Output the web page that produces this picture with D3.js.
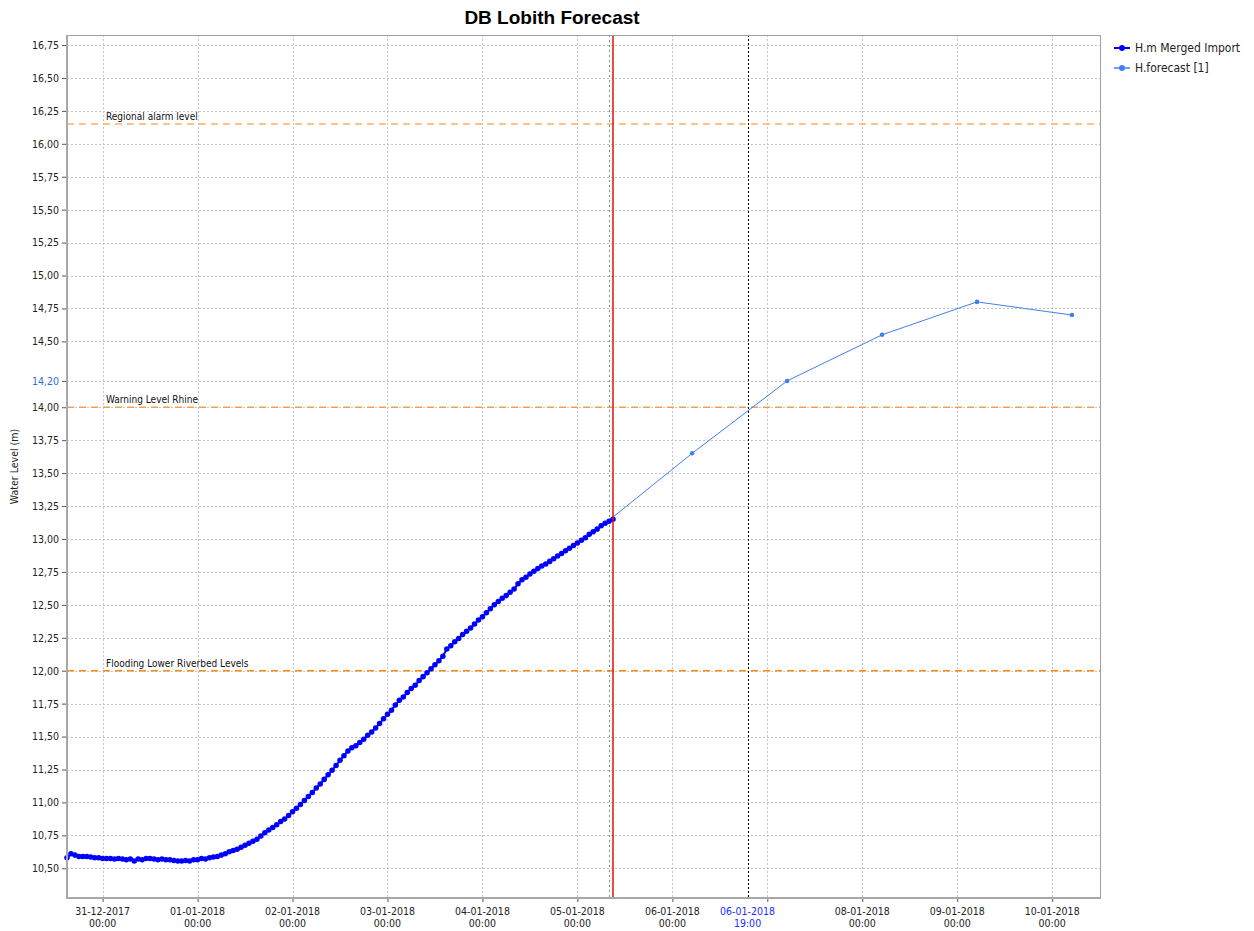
<!DOCTYPE html>
<html>
<head>
<meta charset="utf-8">
<script src="https://cdn.jsdelivr.net/npm/d3@7"></script>
<style>
body { margin: 0; background: #fff; }
text { font-family: "DejaVu Sans Condensed", "DejaVu Sans", sans-serif; font-stretch: condensed; }
</style>
</head>
<body>
<div id="chart"></div>
<script>
// observed water level, hourly from 30-12-2017 15:00
const obsStart = "2017-12-30T15:00";
const obsValues = [
    10.58, 10.61, 10.60, 10.59, 10.59, 10.59, 10.585, 10.58, 10.58, 10.575, 10.575,
    10.575, 10.57, 10.575, 10.57, 10.565, 10.57, 10.555, 10.57, 10.565, 10.575, 10.575,
    10.57, 10.565, 10.57, 10.565, 10.565, 10.56, 10.555, 10.555, 10.56, 10.555, 10.565,
    10.565, 10.575, 10.57, 10.58, 10.585, 10.59, 10.60, 10.61, 10.625, 10.635, 10.645, 10.66,
    10.675, 10.69, 10.705, 10.72, 10.745, 10.77, 10.79, 10.81, 10.83, 10.855, 10.875, 10.90,
    10.93, 10.955, 10.985, 11.015, 11.045, 11.075, 11.11, 11.14, 11.175, 11.21, 11.245, 11.28,
    11.32, 11.355, 11.39, 11.415, 11.43, 11.455, 11.48, 11.51, 11.535, 11.565, 11.60, 11.635,
    11.67, 11.70, 11.74, 11.775, 11.80, 11.835, 11.865, 11.89, 11.925, 11.955, 11.985, 12.015,
    12.045, 12.075, 12.11, 12.165, 12.19, 12.22, 12.245, 12.275, 12.30, 12.325, 12.355, 12.385,
    12.41, 12.44, 12.47, 12.50, 12.525, 12.55, 12.57, 12.595, 12.62, 12.66, 12.69, 12.71,
    12.735, 12.755, 12.775, 12.795, 12.81, 12.83, 12.85, 12.87, 12.89, 12.91, 12.93, 12.95,
    12.97, 12.99, 13.01, 13.035, 13.055, 13.075, 13.10, 13.12, 13.135, 13.15
];

const fcTimes = ["2018-01-05T05:00", "2018-01-06T05:00", "2018-01-07T05:00",
                 "2018-01-08T05:00", "2018-01-09T05:00", "2018-01-10T05:00"];
const fcValues = [13.07, 13.65, 14.20, 14.55, 14.80, 14.70];

const thresholdNames = ["Regional alarm level", "Warning Level Rhine", "Flooding Lower Riverbed Levels"];
const thresholdValues = [16.15, 14.00, 12.00];
const thresholdColors = ["#ffb070", "#f5a050", "#ff8a10"];

const yTicks = [10.50, 10.75, 11.00, 11.25, 11.50, 11.75, 12.00, 12.25, 12.50, 12.75, 13.00,
                13.25, 13.50, 13.75, 14.00, 14.20, 14.50, 14.75, 15.00, 15.25, 15.50, 15.75,
                16.00, 16.25, 16.50, 16.75];
const gridDays = ["2017-12-31", "2018-01-01", "2018-01-02", "2018-01-03", "2018-01-04",
                  "2018-01-05", "2018-01-06", "2018-01-07", "2018-01-08", "2018-01-09", "2018-01-10"];
const labelDays = ["2017-12-31", "2018-01-01", "2018-01-02", "2018-01-03", "2018-01-04",
                   "2018-01-05", "2018-01-06", "2018-01-08", "2018-01-09", "2018-01-10"];

const t0Time = "2018-01-05T09:00";        // red forecast-time line
const lastObsTime = "2018-01-05T08:00";   // grey dotted marker
const crossTime = "2018-01-06T19:00";     // black dotted marker
const crossValue = 14.20;

const width = 1254, height = 931;
const margin = {top: 35, left: 67, right: 153, bottom: 33};
const w = width - margin.left - margin.right;
const h = height - margin.top - margin.bottom;

const parse = d3.utcParse("%Y-%m-%dT%H:%M");
const parseDay = d3.utcParse("%Y-%m-%d");
const fmtDay = d3.utcFormat("%d-%m-%Y");
const fmtTime = d3.utcFormat("%H:%M");
const fmtNum = v => v.toFixed(2).replace(".", ",");

let obs = obsValues.map((v, i) => [d3.utcHour.offset(parse(obsStart), i), v]);
let fc = fcValues.map((v, i) => [parse(fcTimes[i]), v]);

let svg = d3.select("#chart").append("svg")
    .attr("width", width)
    .attr("height", height);

let g = svg.append("g")
    .attr("transform", `translate(${margin.left}, ${margin.top})`);

let x = d3.scaleUtc()
    .domain([parse("2017-12-30T15:00"), parse("2018-01-10T12:20")])
    .range([0, w]);

let y = d3.scaleLinear()
    .domain([10.2745, 16.826])
    .range([h, 0]);

// grid
g.append("g").selectAll("line").data(yTicks).enter()
    .append("line")
    .attr("x1", 0).attr("x2", w)
    .attr("y1", d => Math.round(y(d)) + 0.5).attr("y2", d => Math.round(y(d)) + 0.5)
    .attr("stroke", "#c4c4c4")
    .attr("stroke-dasharray", "2,2");

g.append("g").selectAll("line").data(gridDays).enter()
    .append("line")
    .attr("x1", d => Math.round(x(parseDay(d))) + 0.5).attr("x2", d => Math.round(x(parseDay(d))) + 0.5)
    .attr("y1", 0).attr("y2", h)
    .attr("stroke", "#c4c4c4")
    .attr("stroke-dasharray", "2,2");

// thresholds
thresholdValues.forEach((v, i) => {
    g.append("line")
        .attr("x1", 0).attr("x2", w)
        .attr("y1", y(v)).attr("y2", y(v))
        .attr("stroke", thresholdColors[i])
        .attr("stroke-width", 1.5)
        .attr("stroke-dasharray", "7,5");
    g.append("text")
        .attr("x", 39)
        .attr("y", y(v) - 4)
        .style("font-size", "10px")
        .attr("fill", "#111")
        .text(thresholdNames[i]);
});

// vertical markers
g.append("line")
    .attr("x1", Math.round(x(parse(lastObsTime))) + 0.5).attr("x2", Math.round(x(parse(lastObsTime))) + 0.5)
    .attr("y1", 0).attr("y2", h)
    .attr("stroke", "#888")
    .attr("stroke-dasharray", "2,3");

g.append("line")
    .attr("x1", Math.round(x(parse(crossTime))) + 0.5).attr("x2", Math.round(x(parse(crossTime))) + 0.5)
    .attr("y1", 0).attr("y2", h)
    .attr("stroke", "#000")
    .attr("stroke-dasharray", "2,2");

// forecast series
let line = d3.line().x(d => x(d[0])).y(d => y(d[1]));

g.append("path")
    .datum(fc)
    .attr("fill", "none")
    .attr("stroke", "#3f7ff0")
    .attr("stroke-width", 1)
    .attr("d", line);

let marker = d3.symbol().type(d3.symbolCircle);

g.append("g").selectAll("path").data(fc).enter()
    .append("path")
    .attr("transform", d => `translate(${x(d[0])}, ${y(d[1])})`)
    .attr("d", marker.size(16))
    .attr("fill", "#3f7ff0");

// observed series
g.append("path")
    .datum(obs)
    .attr("fill", "none")
    .attr("stroke", "#0000ff")
    .attr("stroke-width", 2)
    .attr("d", line);

g.append("g").selectAll("path").data(obs).enter()
    .append("path")
    .attr("transform", d => `translate(${x(d[0])}, ${y(d[1])})`)
    .attr("d", marker.size(24))
    .attr("fill", "#0000ff");

// red T0 line
g.append("line")
    .attr("x1", x(parse(t0Time))).attr("x2", x(parse(t0Time)))
    .attr("y1", 0).attr("y2", h)
    .attr("stroke", "#e01010")
    .attr("stroke-width", 1.5);

// frame
g.append("rect")
    .attr("x", 0.5).attr("y", 0.5)
    .attr("width", w - 1).attr("height", h - 1)
    .attr("fill", "none")
    .attr("stroke", "#a0a0a0");

g.append("line").attr("x1", 0).attr("x2", 0).attr("y1", 0).attr("y2", h + 1)
    .attr("stroke", "#a8a8a8").attr("stroke-width", 2);
g.append("line").attr("x1", 0).attr("x2", w).attr("y1", h).attr("y2", h)
    .attr("stroke", "#a8a8a8").attr("stroke-width", 2);

// y axis
let yAxis = g.append("g")
    .call(d3.axisLeft(y).tickValues(yTicks).tickSize(4).tickPadding(4).tickFormat(fmtNum));
yAxis.select(".domain").remove();
yAxis.selectAll(".tick line").attr("stroke", "#555").attr("transform", "translate(-1,0)");
yAxis.selectAll(".tick text")
    .style("font-size", "10.5px")
    .attr("fill", d => d === crossValue ? "#2a6ee0" : "#222");

// x axis
let xAxis = g.append("g")
    .attr("transform", `translate(0, ${h + 1})`)
    .call(d3.axisBottom(x).tickValues(gridDays.map(parseDay)).tickSize(3).tickFormat(""));
xAxis.select(".domain").remove();
xAxis.selectAll(".tick line").attr("stroke", "#555");

let xLabels = labelDays.map(d => ({t: parseDay(d), c: "#222"}))
    .concat([{t: parse(crossTime), c: "#1a2cff"}]);

let xl = g.append("g").selectAll("text").data(xLabels).enter()
    .append("text")
    .attr("text-anchor", "middle")
    .attr("fill", d => d.c)
    .style("font-size", "10.5px");
xl.append("tspan")
    .attr("x", d => x(d.t)).attr("y", h + 17)
    .text(d => fmtDay(d.t));
xl.append("tspan")
    .attr("x", d => x(d.t)).attr("y", h + 29)
    .text(d => fmtTime(d.t));

// y title
svg.append("text")
    .attr("transform", `translate(18, ${margin.top + h / 2}) rotate(-90)`)
    .attr("text-anchor", "middle")
    .style("font-size", "10.5px")
    .attr("fill", "#222")
    .text("Water Level (m)");

// title
svg.append("text")
    .attr("x", 552)
    .attr("y", 24)
    .attr("text-anchor", "middle")
    .style("font-family", "'Liberation Sans', Arial, sans-serif")
    .style("font-size", "19px")
    .style("font-weight", "bold")
    .text("DB Lobith Forecast");

// legend
let legendNames = ["H.m Merged Import", "H.forecast [1]"];
let legendColors = ["#0000ff", "#3f7ff0"];
let lg = svg.append("g").selectAll("g").data(legendNames).enter()
    .append("g")
    .attr("transform", (d, i) => `translate(1114, ${48 + i * 20})`);
lg.append("line")
    .attr("x1", 0).attr("x2", 16)
    .attr("stroke", (d, i) => legendColors[i])
    .attr("stroke-width", (d, i) => i === 0 ? 2 : 1.5);
lg.append("path")
    .attr("transform", "translate(8,0)")
    .attr("d", marker.size(26))
    .attr("fill", (d, i) => legendColors[i]);
lg.append("text")
    .attr("x", 21).attr("y", 4)
    .style("font-size", "12px")
    .attr("fill", "#222")
    .text(d => d);
</script>
</body>
</html>
